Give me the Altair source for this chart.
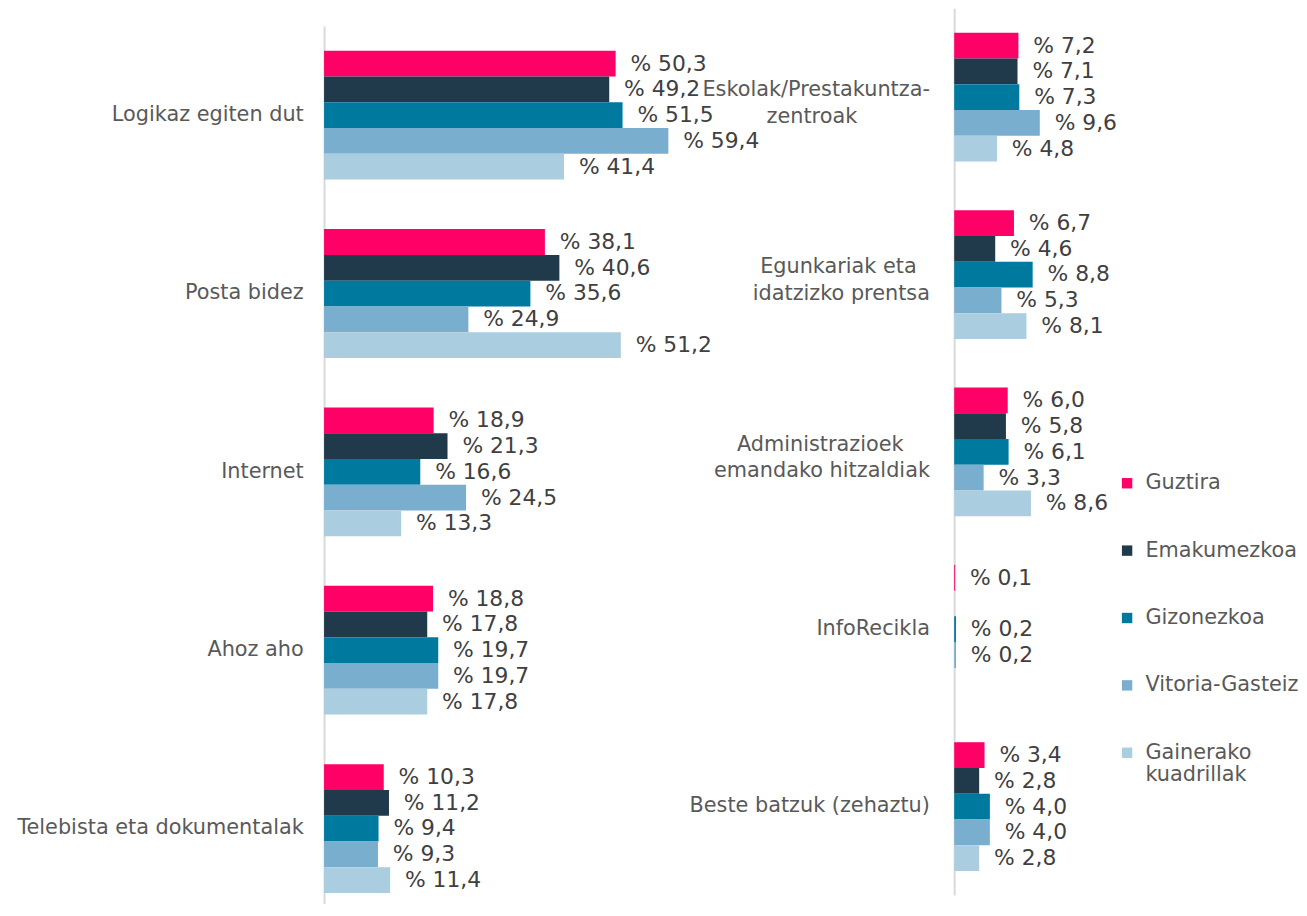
import altair as alt
import pandas as pd

series = ["Guztira", "Emakumezkoa", "Gizonezkoa", "Vitoria-Gasteiz", "Gainerako kuadrillak"]
colors = ["#ff0066", "#203a4c", "#00799f", "#7aaecf", "#abcde0"]

left_categories = ["Logikaz egiten dut", "Posta bidez", "Internet", "Ahoz aho",
                   "Telebista eta dokumentalak"]
left_guztira = [50.3, 38.1, 18.9, 18.8, 10.3]
left_emakumezkoa = [49.2, 40.6, 21.3, 17.8, 11.2]
left_gizonezkoa = [51.5, 35.6, 16.6, 19.7, 9.4]
left_vitoria = [59.4, 24.9, 24.5, 19.7, 9.3]
left_gainerako = [41.4, 51.2, 13.3, 17.8, 11.4]

right_categories = ["Eskolak/Prestakuntza-\nzentroak", "Egunkariak eta\nidatzizko prentsa",
                    "Administrazioek\nemandako hitzaldiak", "InfoRecikla",
                    "Beste batzuk (zehaztu)"]
right_guztira = [7.2, 6.7, 6.0, 0.1, 3.4]
right_emakumezkoa = [7.1, 4.6, 5.8, None, 2.8]
right_gizonezkoa = [7.3, 8.8, 6.1, 0.2, 4.0]
right_vitoria = [9.6, 5.3, 3.3, 0.2, 4.0]
right_gainerako = [4.8, 8.1, 8.6, None, 2.8]

# rough glyph widths (em) used only to centre the lines of two-line category labels
NARROW = {"i": .28, "l": .28, "t": .39, "r": .41, " ": .32, "/": .34, "-": .36, "j": .28, "f": .35}
WIDE = {"m": .97, "w": .82, "M": .86, "W": .99}


def text_em(s):
    return sum(NARROW.get(ch, WIDE.get(ch, .61)) for ch in s)


def centre_lines(label):
    lines = label.split("\n")
    if len(lines) == 1:
        return label
    widest = max(text_em(l) for l in lines)
    out = []
    for l in lines:
        n = int(round((widest - text_em(l)) / 2 / 0.318))
        out.append(l + "\u00a0" * n + ("\u200b" if n else ""))
    return "\n".join(out)


def build(categories, cols):
    rows = []
    for s, vals in zip(series, cols):
        for c, v in zip(categories, vals):
            if v is None:
                continue
            rows.append({"cat": centre_lines(c), "series": s, "value": v,
                         "label": "% " + f"{v:.1f}".replace(".", ",")})
    return pd.DataFrame(rows)


left_df = build(left_categories, [left_guztira, left_emakumezkoa, left_gizonezkoa,
                                  left_vitoria, left_gainerako])
right_df = build(right_categories, [right_guztira, right_emakumezkoa, right_gizonezkoa,
                                    right_vitoria, right_gainerako])

FONT = "DejaVu Sans"
color_scale = alt.Scale(domain=series, range=colors)


def panel(df, categories, xmax, width, height, yrange, label_pad, extent, legend):
    y = alt.Y("cat:N", sort=[centre_lines(c) for c in categories], title=None,
              scale=alt.Scale(paddingInner=0.278, paddingOuter=0.139, range=yrange),
              axis=alt.Axis(labelExpr="split(datum.label, '\\n')", labelFontSize=21,
                            labelFont=FONT, labelColor="#595959", labelLimit=400,
                            labelPadding=label_pad, ticks=False, domainColor="#d9d9d9",
                            domainWidth=2, minExtent=extent, maxExtent=extent,
                            labelLineHeight=27,
                            labelOffset={"condition": {"test": "indexof(datum.label, '\\n') >= 0",
                                                       "value": -7},
                                         "value": 0}))
    yoff = alt.YOffset("series:N", sort=series, scale=alt.Scale(paddingInner=0, paddingOuter=0))
    x = alt.X("value:Q", axis=None, scale=alt.Scale(domain=[0, xmax], nice=False, zero=True))
    if legend:
        leg = alt.Legend(title=None, orient="none", legendX=800, legendY=469,
                         labelFont=FONT, labelFontSize=21, labelColor="#595959",
                         symbolType="square", symbolSize=110, symbolStrokeWidth=0,
                         labelOffset=8, rowPadding=46,
                         labelExpr="datum.label == 'Gainerako kuadrillak' ? ['Gainerako', 'kuadrillak'] : datum.label")
    else:
        leg = None
    col = alt.Color("series:N", sort=series, scale=color_scale, legend=leg)
    base = alt.Chart(df).encode(y=y, yOffset=yoff, x=x)
    bars = base.mark_bar(size=26).encode(color=col)
    text = base.mark_text(align="left", baseline="middle", dx=15, fontSize=22,
                          font=FONT, color="#404040").encode(text="label:N")
    return (bars + text).properties(width=width, height=height)


left = panel(left_df, left_categories, 60, 351, 900, [18, 918], 21, 315, True)
right = panel(right_df, right_categories, 10, 90, 895, [0, 895], 25, 260, False)

chart = alt.hconcat(left, right, spacing=285, bounds="flush").properties(
    padding={"left": 4, "top": -4, "right": 0, "bottom": 0}
).configure_view(stroke=None)

chart.save("out.html", embed_options={"renderer": "svg", "actions": False})
